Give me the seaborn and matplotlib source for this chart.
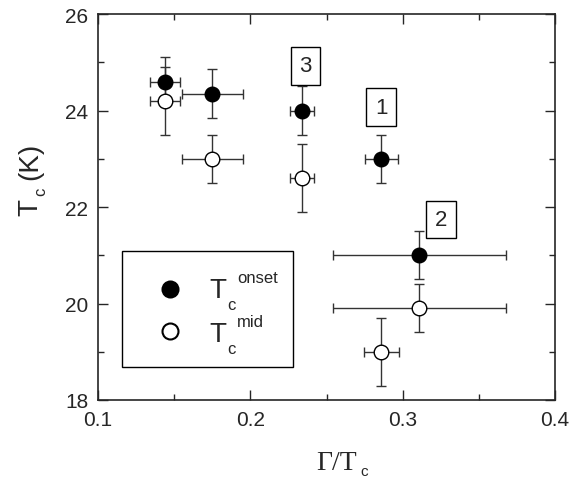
import numpy as np
import pandas as pd
import matplotlib
matplotlib.use("Agg")
import matplotlib.pyplot as plt
import seaborn as sns
from matplotlib.ticker import MultipleLocator
from matplotlib.lines import Line2D
from matplotlib.patches import Rectangle

# -------------------------------------------
# DATA
# -------------------------------------------
onset_x = [0.144, 0.175, 0.234, 0.286, 0.311]
onset_y = [24.6, 24.35, 24.0, 23.0, 21.0]
onset_xerr = [0.010, 0.020, 0.008, 0.011, 0.057]
onset_yerr = [0.5, 0.5, 0.5, 0.5, 0.5]

mid_x = [0.144, 0.175, 0.234, 0.286, 0.311]
mid_y = [24.2, 23.0, 22.6, 19.0, 19.9]
mid_xerr = [0.010, 0.020, 0.008, 0.0115, 0.057]
mid_yerr = [0.7, 0.5, 0.7, 0.7, 0.5]

sample_labels = ["3", "1", "2"]
sample_x = [0.2364, 0.2858, 0.3252]
sample_y = [24.93, 24.07, 21.74]

df = pd.DataFrame({
    "x": onset_x + mid_x,
    "y": onset_y + mid_y,
    "kind": ["onset"] * len(onset_x) + ["mid"] * len(mid_x),
})

# -------------------------------------------
# STYLE
# -------------------------------------------
sns.set_style("ticks")
plt.rcParams["font.family"] = ["Liberation Sans", "DejaVu Sans"]

W, H = 582, 481
fig = plt.figure(figsize=(W / 100, H / 100), dpi=100)
ax = fig.add_axes([98 / W, 1 - 401 / H, 457 / W, 386 / H])


def px(x, y):
    # figure pixel (y from top) -> figure fraction
    return x / W, 1 - y / H


def ftext(x, y, s, size, **kw):
    fx, fy = px(x, y)
    fig.text(fx, fy, s, fontsize=size, ha="left", va="baseline",
             rotation_mode="anchor", **kw)


# error bars first, markers on top
ax.errorbar(onset_x, onset_y, xerr=onset_xerr, yerr=onset_yerr, fmt="none",
            ecolor="#333333", elinewidth=1, capsize=3.5, capthick=1, zorder=2)
ax.errorbar(mid_x, mid_y, xerr=mid_xerr, yerr=mid_yerr, fmt="none",
            ecolor="#333333", elinewidth=1, capsize=3.5, capthick=1, zorder=2)

sns.scatterplot(data=df[df.kind == "onset"], x="x", y="y", ax=ax, s=110,
                color="black", edgecolor="black", linewidth=1, zorder=3, legend=False)
sns.scatterplot(data=df[df.kind == "mid"], x="x", y="y", ax=ax, s=110,
                color="white", edgecolor="black", linewidth=1, zorder=3, legend=False)

# numbered boxes
for lab, xx, yy in zip(sample_labels, sample_x, sample_y):
    ax.text(xx, yy, lab, fontsize=16, ha="center", va="center",
            bbox=dict(boxstyle="square,pad=0.38", fc="white", ec="black", lw=1))

# axes
ax.set_xlim(0.1, 0.4)
ax.set_ylim(18, 26)
ax.xaxis.set_major_locator(MultipleLocator(0.1))
ax.xaxis.set_minor_locator(MultipleLocator(0.05))
ax.yaxis.set_major_locator(MultipleLocator(2))
ax.yaxis.set_minor_locator(MultipleLocator(1))
ax.tick_params(which="both", direction="in", top=True, right=True, labelsize=15,
               width=1, pad=7)
ax.tick_params(which="major", length=7)
ax.tick_params(which="minor", length=4)
ax.xaxis.set_major_formatter(plt.FuncFormatter(lambda v, p: f"{v:.1f}"))
ax.set_xlabel("")
ax.set_ylabel("")
for sp in ax.spines.values():
    sp.set_linewidth(1.2)

# axis titles with Origin-style sub/superscripts
ftext(316, 470, "Γ/T", 20, family=["Liberation Serif"])
ftext(360, 476, "c", 11)

ftext(37, 216, "T", 20, rotation=90)
ftext(45, 196, "c", 12, rotation=90)
ftext(37, 180, "(K)", 20, rotation=90)

# legend box
lx0, ly0 = px(122, 368)
lx1, ly1 = px(293, 252)
fig.add_artist(Rectangle((lx0, ly0), lx1 - lx0, ly1 - ly0, transform=fig.transFigure,
                         fc="white", ec="black", lw=1, zorder=5))
for cy, face in [(290, "black"), (332, "white")]:
    mx, my = px(170, cy)
    fig.add_artist(Line2D([mx], [my], marker="o", ms=11.5, mfc=face, mec="black",
                          mew=1.5, ls="none", transform=fig.transFigure, zorder=6))
for base, sup in [(298, "onset"), (342, "mid")]:
    ftext(209, base, "T", 20, zorder=6)
    ftext(227, base + 12, "c", 12, zorder=6)
    ftext(237, base - 15, sup, 12, zorder=6)

fig.savefig("out.png", dpi=100)
